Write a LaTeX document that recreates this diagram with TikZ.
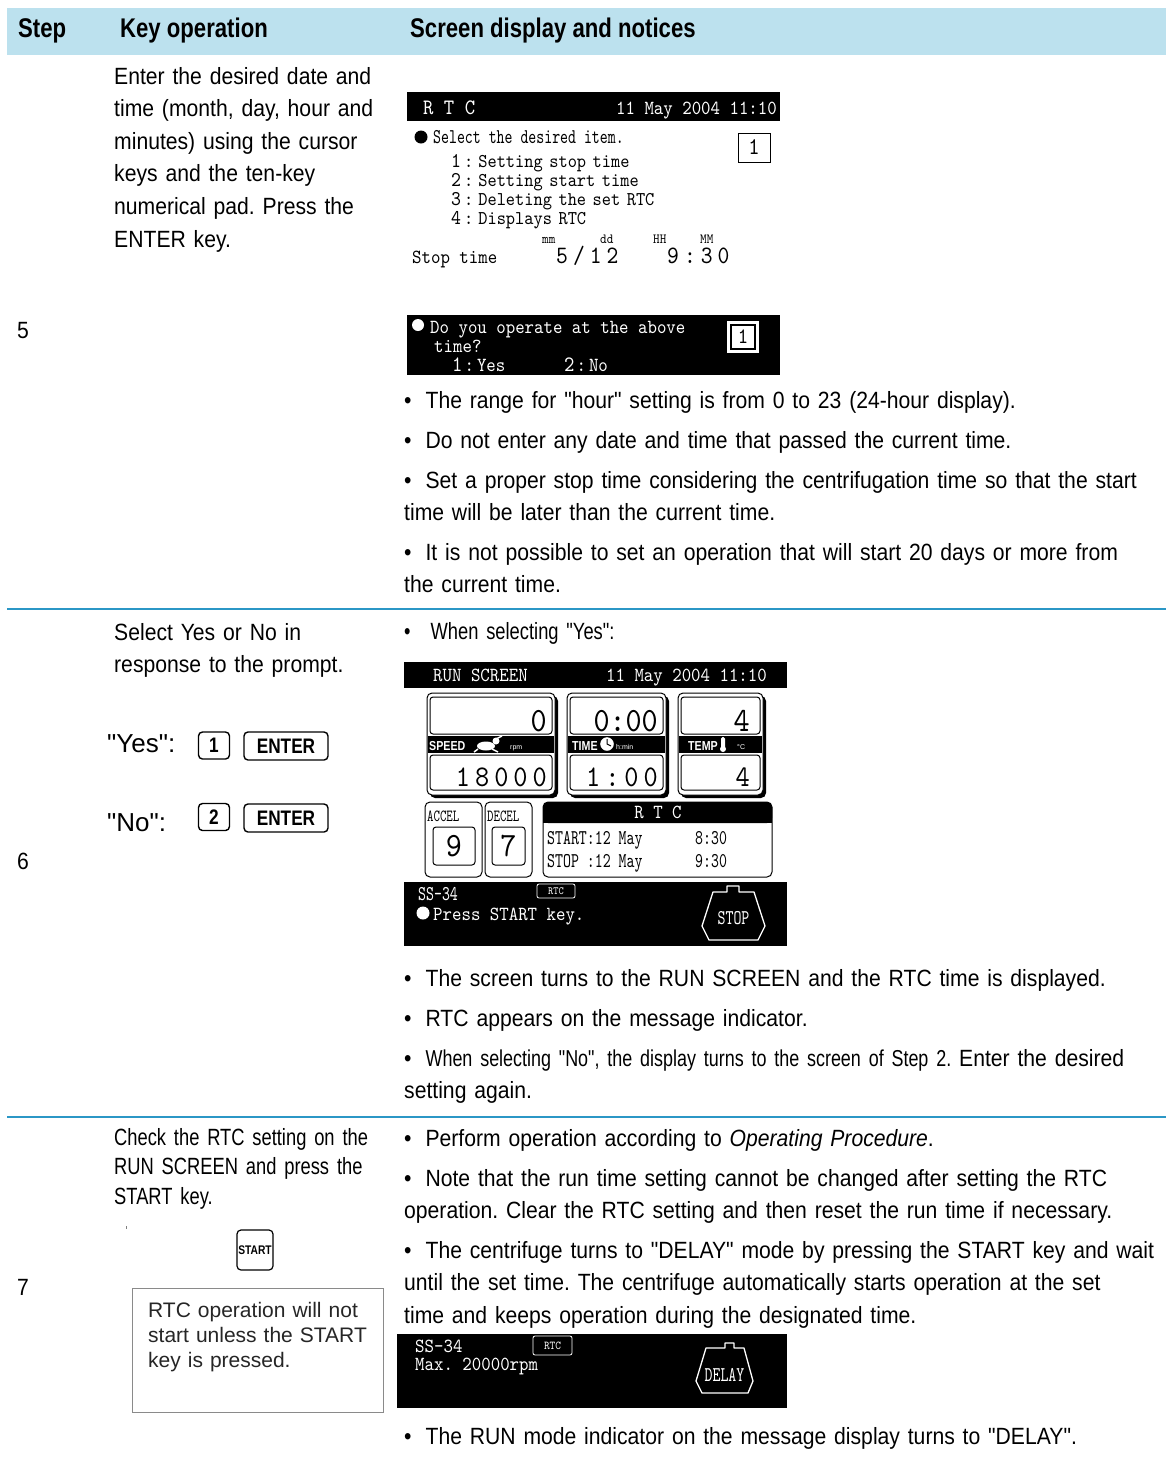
\documentclass[tikz,border=0pt]{standalone}
\usepackage{fontspec}
\setmainfont{Liberation Sans}
\newfontfamily\arialfont{Liberation Sans}
\newfontfamily\condfont{Liberation Sans}[FakeStretch=0.9]
\newfontfamily\narrowfont{Liberation Sans}[FakeStretch=0.78]
\newfontfamily\headfont{Liberation Sans}[FakeStretch=0.82]
\newfontfamily\lcdfont{lmmono10-regular.otf}[FakeStretch=0.9]
\newfontfamily\lcdnarrow{lmmono10-regular.otf}[FakeStretch=0.72]
\usetikzlibrary{positioning,calc}
\definecolor{headblue}{HTML}{BCE1EE}
\definecolor{ruleblue}{HTML}{2B97C6}
\definecolor{notegray}{HTML}{8A8A8A}
\newcommand\digap{\hspace{5pt}}
\newcommand\menunum[1]{{\fontsize{21}{19}\selectfont #1}\hspace{3pt}:\hspace{5pt}}
\tikzset{
	head/.style={font=\headfont\bfseries\fontsize{27}{30}\selectfont, anchor=base west, inner sep=0pt},
	body/.style={font=\condfont\fontsize{23.5}{32.6}\selectfont, anchor=base west, inner sep=0pt, align=left, text width=800pt},
	narrowbody/.style={body, font=\narrowfont\fontsize{23.5}{29.5}\selectfont},
	plain/.style={font=\arialfont\fontsize{21}{25}\selectfont, anchor=base west, inner sep=0pt, align=left, text width=240pt},
	rule/.style={ruleblue, line width=2pt},
	keycap/.style={draw, line width=1.4pt, rounded corners=4pt, fill=white, inner sep=0pt, font=\headfont\bfseries\fontsize{21}{21}\selectfont},
	lcd/.style={font=\lcdfont\fontsize{20}{20}\selectfont, anchor=base west, inner sep=0pt},
	lcdw/.style={lcd, text=white},
	lcdmenu/.style={lcd, font=\lcdfont\fontsize{19.5}{19}\selectfont, align=left, text width=300pt},
	lcdsmall/.style={lcd, font=\lcdfont\fontsize{14}{14}\selectfont},
	lcdbig/.style={lcd, font=\lcdfont\fontsize{25}{25}\selectfont},
	lcdmid/.style={lcd, font=\lcdfont\fontsize{30}{30}\selectfont},
	lcdhuge/.style={lcd, font=\lcdfont\fontsize{34}{34}\selectfont},
	lcdthin/.style={lcd, font=\lcdnarrow\fontsize{21}{21}\selectfont},
	panel/.style={draw, fill=white, line width=1pt, rounded corners=5pt},
	lcdbox/.style={draw, line width=1pt, rounded corners=3pt},
	striplabel/.style={font=\headfont\bfseries\fontsize{13}{13}\selectfont, text=white, anchor=base west, inner sep=0pt},
	microtext/.style={font=\arialfont\fontsize{7}{7}\selectfont, text=white, anchor=base west, inner sep=0pt},
	modeshape/.style={white, line width=1.3pt, line join=round},
}
\begin{document}
\frenchspacing
\begin{tikzpicture}[x=1pt,y=-1pt]
	\useasboundingbox (0,0) rectangle (1166,1457);
	\fill[white] (0,0) rectangle (1166,1457);
	\fill[headblue] (7,8) rectangle (1166,55);
	\node[head] (hstep) at (18,37) {Step};
	\node[head] (hkey) at (120,37) {Key operation};
	\node[head] (hscreen) at (410,37) {Screen display and notices};
	\draw[rule] (7,609) -- (1166,609);
	\draw[rule] (7,1117) -- (1166,1117);

	\node[body] (step5) at (17,338) {5};
	\node[body] (step6) at (17,869) {6};
	\node[body] (step7) at (17,1295) {7};

	% step 5
	\node[body] (key5) at (114,84) {Enter the desired date and\\time (month, day, hour and\\minutes) using the cursor\\keys and the ten-key\\numerical pad. Press the\\ENTER key.};

	\fill (407,92) rectangle (780,121);
	\node[lcdw, font=\lcdfont\fontsize{22}{22}\selectfont] (rtctitle) at (423,114) {R T C};
	\node[lcdw, anchor=base east] (rtcdate) at (777,114) {11 May 2004 11:10};
	\fill (421,137) circle (6.5);
	\node[lcdthin] (select) at (433,143) {Select the desired item.};
	\node[draw, line width=1pt, minimum width=32pt, minimum height=29pt, inner sep=0pt, font=\lcdfont\fontsize{24}{24}\selectfont] (sel1) at (754,147.5) {1};
	\node[lcdmenu] (menu) at (451,167) {\menunum{1}Setting stop time\\\menunum{2}Setting start time\\\menunum{3}Deleting the set RTC\\\menunum{4}Displays RTC};
	\node[lcdsmall] (mm) at (542,243) {mm};
	\node[lcdsmall] (dd) at (600,243) {dd};
	\node[lcdsmall] (hh) at (653,243) {HH};
	\node[lcdsmall] (mmin) at (700,243) {MM};
	\node[lcd] (stoptime) at (412,263) {Stop time};
	\node[lcdbig] (stopdate) at (556,263) {5\digap/\digap1\digap2};
	\node[lcdbig] (stopclock) at (667,263) {9\digap:\digap3\digap0};

	\fill (407,315) rectangle (780,375);
	\fill[white] (418,325) circle (6);
	\node[lcdw] (ask) at (430,333) {Do you operate at the above};
	\node[lcdw] (ask2) at (434,352) {time?};
	\node[lcdw] (yes1) at (452,371) {{\fontsize{22}{22}\selectfont 1}\hspace{2pt}:\hspace{3pt}Yes};
	\node[lcdw] (no2) at (564,371) {{\fontsize{22}{22}\selectfont 2}\hspace{2pt}:\hspace{3pt}No};
	\draw[white, fill=white, line width=2pt] (728,322) rectangle (758,352);
	\draw[line width=1.2pt] (731,325) rectangle (755,349);
	\node[font=\lcdfont\bfseries\fontsize{22}{22}\selectfont, inner sep=0pt] (sel2) at (743,337) {1};

	\node[body] (note1) at (404,408) {\textbullet\hspace{14pt}The range for "hour" setting is from 0 to 23 (24-hour display).};
	\node[body] (note2) at (404,448) {\textbullet\hspace{14pt}Do not enter any date and time that passed the current time.};
	\node[body] (note3) at (404,488) {\textbullet\hspace{14pt}Set a proper stop time considering the centrifugation time so that the start\\time will be later than the current time.};
	\node[body] (note4) at (404,560) {\textbullet\hspace{14pt}It is not possible to set an operation that will start 20 days or more from\\the current time.};

	% step 6
	\node[body] (key6) at (114,640) {Select Yes or No in\\response to the prompt.};
	\node[plain, font=\arialfont\fontsize{26}{26}\selectfont] (yes) at (107,752) {"Yes":};
	\node[keycap, minimum width=31pt, minimum height=27pt] (one) at (214,745.5) {1};
	\node[keycap, minimum width=84pt, minimum height=28pt] (enterA) at (286,746) {ENTER};
	\node[plain, font=\arialfont\fontsize{26}{26}\selectfont] (no) at (107,831) {"No":};
	\node[keycap, minimum width=31pt, minimum height=27pt] (two) at (214,817) {2};
	\node[keycap, minimum width=84pt, minimum height=28pt] (enterB) at (286,818) {ENTER};

	\node[narrowbody] (yeshead) at (404,639) {\textbullet\hspace{20pt}When selecting "Yes":};

	\fill (404,662) rectangle (787,688);
	\node[lcdw] (runtitle) at (433,681) {RUN SCREEN};
	\node[lcdw, anchor=base east] (rundate) at (767,681) {11 May 2004 11:10};
	\foreach \xa/\xb in {427/555, 567/666, 678/763}{
		\fill[rounded corners=5pt] (\xa+3,696) rectangle (\xb+3,798);
		\draw[panel] (\xa,693) rectangle (\xb,795);
		\draw[lcdbox] (\xa+3,697) rectangle (\xb-3,734);
		\fill (\xa+1,736) rectangle (\xb-1,753);
		\draw[lcdbox] (\xa+3,755) rectangle (\xb-3,790);
	}
	\node[lcdhuge, anchor=base east] (speedset) at (547,731) {0};
	\node[lcdhuge, anchor=base east] (timeset) at (658,731) {0:00};
	\node[lcdhuge, anchor=base east] (tempset) at (750,731) {4};
	\node[lcdmid, anchor=base east] (speedrun) at (547,786) {1\digap8\digap0\digap0\digap0};
	\node[lcdmid, anchor=base east] (timerun) at (658,786) {1\digap:\digap0\digap0};
	\node[lcdmid, anchor=base east] (temprun) at (750,786) {4};
	\node[striplabel] (speedlbl) at (429,750) {SPEED};
	\fill[white] (486,746) ellipse (9 and 4.5);
	\fill[white] (496,741) circle (3.5);
	\draw[white, line width=1.5pt] (496,739) -- (502,736) (478,749) -- (474,752) (492,749) -- (498,752);
	\node[microtext] (rpm) at (510,749) {rpm};
	\node[striplabel] (timelbl) at (572,750) {TIME};
	\draw[white, fill=white] (607,744) circle (6.5);
	\draw[line width=1pt] (607,739) -- (607,744) -- (611,746);
	\node[microtext] (hmin) at (616,749) {h:min};
	\node[striplabel] (templbl) at (688,750) {TEMP};
	\fill[white, rounded corners=1.5pt] (721,737) rectangle (725,749);
	\fill[white] (723,749) circle (3);
	\node[microtext] (degc) at (737,749) {°C};

	\draw[panel] (425,802) rectangle (482,877);
	\node[lcdthin, font=\lcdnarrow\fontsize{17}{17}\selectfont] (accel) at (427,821) {ACCEL};
	\draw[lcdbox] (433,827) rectangle (475,865);
	\node[lcdhuge, anchor=center] (accelval) at (454,846) {9};
	\draw[panel] (485,802) rectangle (532,877);
	\node[lcdthin, font=\lcdnarrow\fontsize{17}{17}\selectfont] (decel) at (487,821) {DECEL};
	\draw[lcdbox] (492,827) rectangle (525,865);
	\node[lcdhuge, anchor=center] (decelval) at (508.5,846) {7};
	\draw[panel] (543,802) rectangle (772,877);
	\fill[rounded corners=5pt] (543,802) rectangle (772,823);
	\fill (543,812) rectangle (772,823);
	\node[lcdw, anchor=base] (rtchead) at (658,818) {R T C};
	\node[lcdthin] (rtcstart) at (547,844) {START:12 May};
	\node[lcdthin] (rtcstartt) at (695,844) {8:30};
	\node[lcdthin] (rtcstop) at (547,867) {STOP :12 May};
	\node[lcdthin] (rtcstopt) at (695,867) {9:30};

	\fill (404,882) rectangle (787,946);
	\node[lcdthin, text=white] (ssA) at (418,900) {SS-34};
	\draw[white, rounded corners=2pt, line width=0.8pt] (537,884) rectangle (575,898);
	\node[microtext, font=\lcdfont\fontsize{11}{11}\selectfont, anchor=center] (rtctagA) at (556,891) {RTC};
	\fill[white] (423,913) circle (6.5);
	\node[lcdw] (press) at (433,920) {Press START key.};
	\draw[modeshape] (713,892) -- (727,892) -- (727,886) -- (739,886) -- (739,892) -- (754,892) -- (765,926) -- (758,940) -- (709,940) -- (702,926) -- cycle;
	\node[lcdthin, text=white, anchor=center] (stopmode) at (733.5,918) {STOP};

	\node[body] (note5) at (404,986) {\textbullet\hspace{14pt}The screen turns to the RUN SCREEN and the RTC time is displayed.};
	\node[body] (note6) at (404,1026) {\textbullet\hspace{14pt}RTC appears on the message indicator.};
	\node[body] (note7) at (404,1066) {\textbullet\hspace{14pt}{\narrowfont\fontsize{23}{32.6}\selectfont When selecting "No", the display turns to the screen of Step 2.} Enter the desired\\setting again.};

	% step 7
	\node[narrowbody] (key7) at (114,1145) {Check the RTC setting on the\\RUN SCREEN and press the\\START key.};
	\draw[gray, line width=0.8pt] (126,1226) -- (126,1229);
	\node[draw, line width=1.2pt, rounded corners=4pt, minimum width=36pt, minimum height=40pt, inner sep=0pt, font=\headfont\bfseries\fontsize{12.5}{12.5}\selectfont] (startkey) at (255,1250) {START};
	\draw[notegray, line width=1pt] (132,1288) rectangle (383,1412);
	\node[plain, text=black!85] (notebox) at (148,1317) {RTC operation will not\\start unless the START\\key is pressed.};

	\node[body] (note8) at (404,1146) {\textbullet\hspace{14pt}Perform operation according to \textit{Operating Procedure}.};
	\node[body] (note9) at (404,1186) {\textbullet\hspace{14pt}Note that the run time setting cannot be changed after setting the RTC\\operation. Clear the RTC setting and then reset the run time if necessary.};
	\node[body] (note10) at (404,1258) {\textbullet\hspace{14pt}The centrifuge turns to "DELAY" mode by pressing the START key and wait\\until the set time. The centrifuge automatically starts operation at the set\\time and keeps operation during the designated time.};

	\fill (397,1334) rectangle (787,1408);
	\node[lcdw] (ssB) at (415,1352) {SS-34};
	\draw[white, rounded corners=2pt, line width=0.8pt] (533,1336) rectangle (572,1355);
	\node[microtext, font=\lcdfont\fontsize{12}{12}\selectfont, anchor=center] (rtctagB) at (552.5,1345.5) {RTC};
	\node[lcdw] (maxrpm) at (415,1370) {Max.\ 20000rpm};
	\draw[modeshape] (706,1348) -- (725,1348) -- (725,1343) -- (734,1343) -- (734,1348) -- (744,1348) -- (753,1381) -- (748,1393) -- (702,1393) -- (696,1381) -- cycle;
	\node[lcdthin, text=white, anchor=center] (delaymode) at (724.5,1375) {DELAY};

	\node[body] (note11) at (404,1444) {\textbullet\hspace{14pt}The RUN mode indicator on the message display turns to "DELAY".};
\end{tikzpicture}
\end{document}
